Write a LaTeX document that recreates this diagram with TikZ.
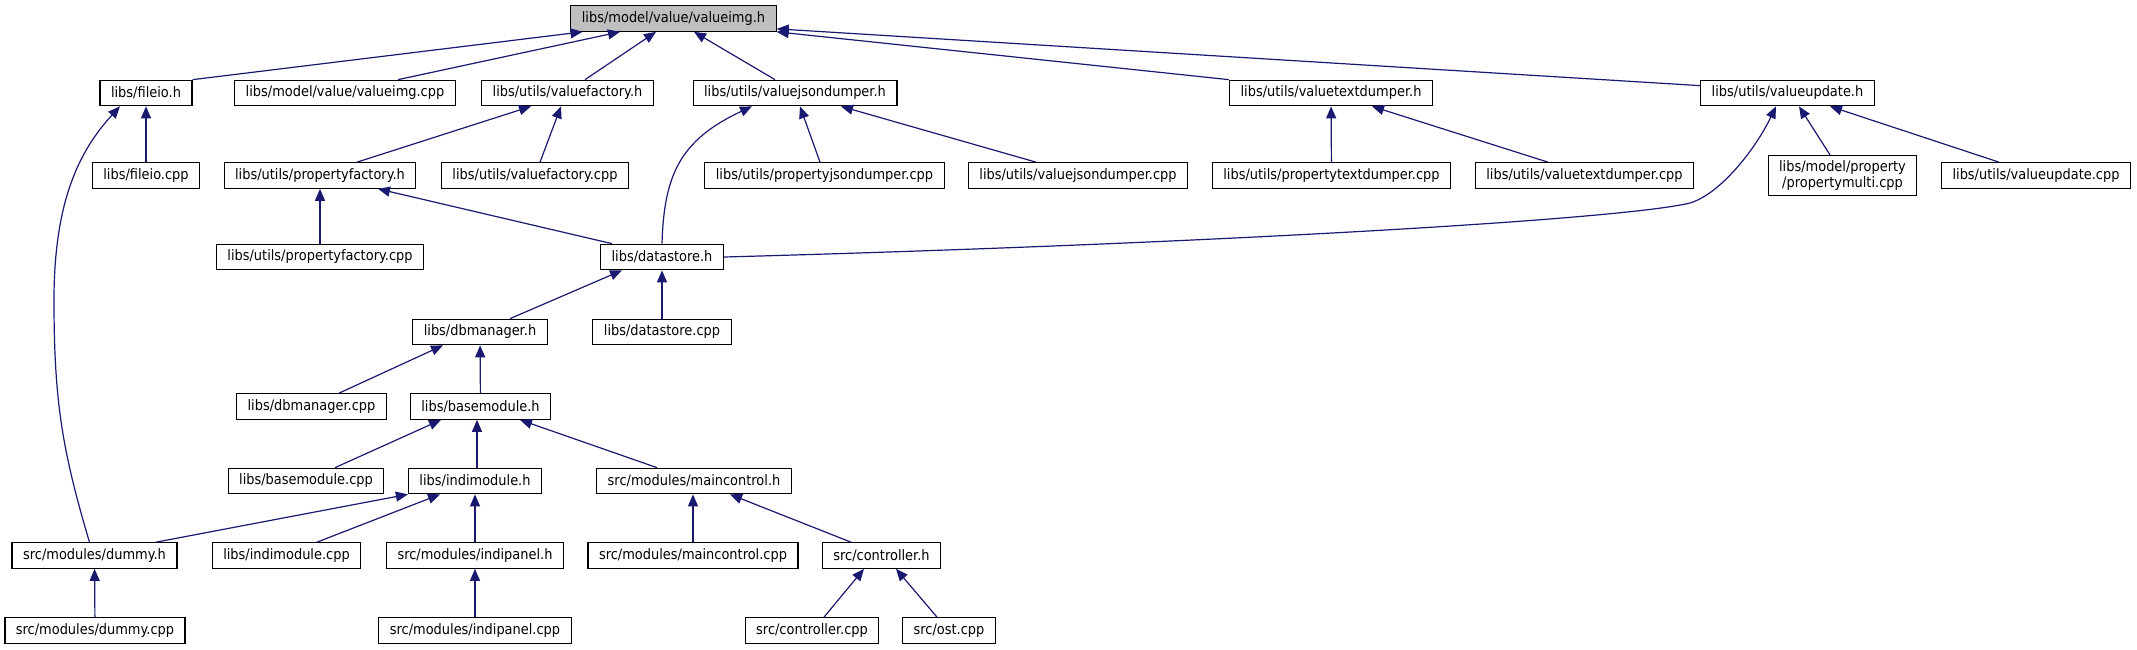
\documentclass[tikz,border=0pt]{standalone}
\usepackage{fontspec}
\setmainfont{DejaVu Sans}[FakeStretch=0.9]
\usepackage{tikz}
\usetikzlibrary{arrows.meta}
\definecolor{edgeblue}{HTML}{191970}
\definecolor{rootgray}{HTML}{BFBFBF}

\begin{document}
\begin{tikzpicture}[x=1pt, y=-1pt,
    file/.style={draw=black, line width=1.2pt, fill=white, inner xsep=11pt, inner ysep=0pt,
      minimum height=25.5pt, font=\fontsize{14.4}{16}\selectfont},
    dep/.style={draw=edgeblue, line width=1.2pt, -{Triangle[length=12pt,width=10pt]}}]
            \useasboundingbox (0,0) rectangle (2137,649);

            % files
            \node[file, fill=rootgray] (valueimgh) at (673.5,18.5) {libs/model/value/valueimg.h};

            \node[file] (fileioh) at (146,93) {libs/fileio.h};
            \node[file] (valueimgcpp) at (345,93) {libs/model/value/valueimg.cpp};
            \node[file] (valuefactoryh) at (567.5,93) {libs/utils/valuefactory.h};
            \node[file] (valuejsondumperh) at (795,93) {libs/utils/valuejsondumper.h};
            \node[file] (valuetextdumperh) at (1331,93) {libs/utils/valuetextdumper.h};
            \node[file] (valueupdateh) at (1787.5,93) {libs/utils/valueupdate.h};

            \node[file] (fileiocpp) at (146,175.5) {libs/fileio.cpp};
            \node[file] (propertyfactoryh) at (320,175.5) {libs/utils/propertyfactory.h};
            \node[file] (valuefactorycpp) at (535,175.5) {libs/utils/valuefactory.cpp};
            \node[file] (propertyjsondumpercpp) at (824.5,175.5) {libs/utils/propertyjsondumper.cpp};
            \node[file] (valuejsondumpercpp) at (1078,175.5) {libs/utils/valuejsondumper.cpp};
            \node[file] (propertytextdumpercpp) at (1331.5,175.5) {libs/utils/propertytextdumper.cpp};
            \node[file] (valuetextdumpercpp) at (1584.5,175.5) {libs/utils/valuetextdumper.cpp};
            \node[file, minimum height=40pt, align=center] (propertymulticpp) at (1842.5,175.5) {libs/model/property\\/propertymulti.cpp};
            \node[file] (valueupdatecpp) at (2036,175.5) {libs/utils/valueupdate.cpp};

            \node[file] (propertyfactorycpp) at (320,257) {libs/utils/propertyfactory.cpp};
            \node[file] (datastoreh) at (662,257) {libs/datastore.h};

            \node[file] (dbmanagerh) at (480,332) {libs/dbmanager.h};
            \node[file] (datastorecpp) at (662,332) {libs/datastore.cpp};

            \node[file] (dbmanagercpp) at (311.5,406.5) {libs/dbmanager.cpp};
            \node[file] (basemoduleh) at (480.5,406.5) {libs/basemodule.h};

            \node[file] (basemodulecpp) at (306,481) {libs/basemodule.cpp};
            \node[file] (indimoduleh) at (475,481) {libs/indimodule.h};
            \node[file] (maincontrolh) at (694,481) {src/modules/maincontrol.h};

            \node[file] (dummyh) at (94.5,555.5) {src/modules/dummy.h};
            \node[file] (indimodulecpp) at (286.5,555.5) {libs/indimodule.cpp};
            \node[file] (indipanelh) at (475,555.5) {src/modules/indipanel.h};
            \node[file] (maincontrolcpp) at (693,555.5) {src/modules/maincontrol.cpp};
            \node[file] (controllerh) at (881.5,555.5) {src/controller.h};

            \node[file] (dummycpp) at (95,630.5) {src/modules/dummy.cpp};
            \node[file] (indipanelcpp) at (475,630.5) {src/modules/indipanel.cpp};
            \node[file] (controllercpp) at (812,630.5) {src/controller.cpp};
            \node[file] (ostcpp) at (949,630.5) {src/ost.cpp};

            % includes
            \draw[dep] (fileioh.north east) -- ([xshift=-91pt]valueimgh.south);
            \draw[dep] ([xshift=53pt]valueimgcpp.north) -- ([xshift=-53.5pt]valueimgh.south);
            \draw[dep] ([xshift=17.5pt]valuefactoryh.north) -- ([xshift=-17.5pt]valueimgh.south);
            \draw[dep] ([xshift=-20pt]valuejsondumperh.north) -- ([xshift=20.5pt]valueimgh.south);
            \draw[dep] (valuetextdumperh.north west) -- (valueimgh.south east);
            \draw[dep] ([yshift=-6pt]valueupdateh.north west) -- ([yshift=3pt]valueimgh.south east);

            \draw[dep] (fileiocpp) -- (fileioh);
            \draw[dep] ([xshift=-5pt]dummyh.north) .. controls (62,450) and (54,400) .. (54,300)
                .. controls (54,200) and (80,150) .. ([xshift=-26pt]fileioh.south);

            \draw[dep] ([xshift=37pt]propertyfactoryh.north) -- ([xshift=-36.5pt]valuefactoryh.south);
            \draw[dep] ([xshift=5pt]valuefactorycpp.north) -- ([xshift=-6.5pt]valuefactoryh.south);

            \draw[dep] (datastoreh.north) .. controls (664,175) and (680,140) .. ([xshift=-43pt]valuejsondumperh.south);
            \draw[dep] ([xshift=-4.5pt]propertyjsondumpercpp.north) -- ([xshift=5pt]valuejsondumperh.south);
            \draw[dep] ([xshift=-42pt]valuejsondumpercpp.north) -- ([xshift=46pt]valuejsondumperh.south);

            \draw[dep] (propertytextdumpercpp) -- (valuetextdumperh);
            \draw[dep] ([xshift=-36.5pt]valuetextdumpercpp.north) -- ([xshift=41pt]valuetextdumperh.south);

            \draw[dep] (datastoreh.east) .. controls (1200,244) and (1620,220) .. (1690,203)
                .. controls (1720,194) and (1755,150) .. ([xshift=-11.5pt]valueupdateh.south);
            \draw[dep] ([xshift=-12.5pt]propertymulticpp.north) -- ([xshift=11.5pt]valueupdateh.south);
            \draw[dep] ([xshift=-37pt]valueupdatecpp.north) -- ([xshift=42.5pt]valueupdateh.south);

            \draw[dep] (propertyfactorycpp) -- (propertyfactoryh);
            \draw[dep] ([xshift=-50pt]datastoreh.north) -- ([xshift=58pt]propertyfactoryh.south);

            \draw[dep] ([xshift=30pt]dbmanagerh.north) -- ([xshift=-40pt]datastoreh.south);
            \draw[dep] (datastorecpp) -- (datastoreh);

            \draw[dep] ([xshift=27.5pt]dbmanagercpp.north) -- ([xshift=-37pt]dbmanagerh.south);
            \draw[dep] (basemoduleh) -- (dbmanagerh);

            \draw[dep] ([xshift=29pt]basemodulecpp.north) -- ([xshift=-39.5pt]basemoduleh.south);
            \draw[dep] ([xshift=2pt]indimoduleh.north) -- ([xshift=-3.5pt]basemoduleh.south);
            \draw[dep] ([xshift=-37pt]maincontrolh.north) -- ([xshift=39.5pt]basemoduleh.south);

            \draw[dep] ([xshift=61.5pt]dummyh.north) -- (indimoduleh.south west);
            \draw[dep] ([xshift=30.5pt]indimodulecpp.north) -- ([xshift=-35pt]indimoduleh.south);
            \draw[dep] (indipanelh) -- (indimoduleh);

            \draw[dep] (maincontrolcpp.north) -- ([xshift=-1pt]maincontrolh.south);
            \draw[dep] ([xshift=-30.5pt]controllerh.north) -- ([xshift=36pt]maincontrolh.south);

            \draw[dep] (dummycpp) -- (dummyh);
            \draw[dep] (indipanelcpp) -- (indipanelh);
            \draw[dep] ([xshift=12pt]controllercpp.north) -- ([xshift=-17.5pt]controllerh.south);
            \draw[dep] ([xshift=-12pt]ostcpp.north) -- ([xshift=14.5pt]controllerh.south);
        \end{tikzpicture}
\end{document}
